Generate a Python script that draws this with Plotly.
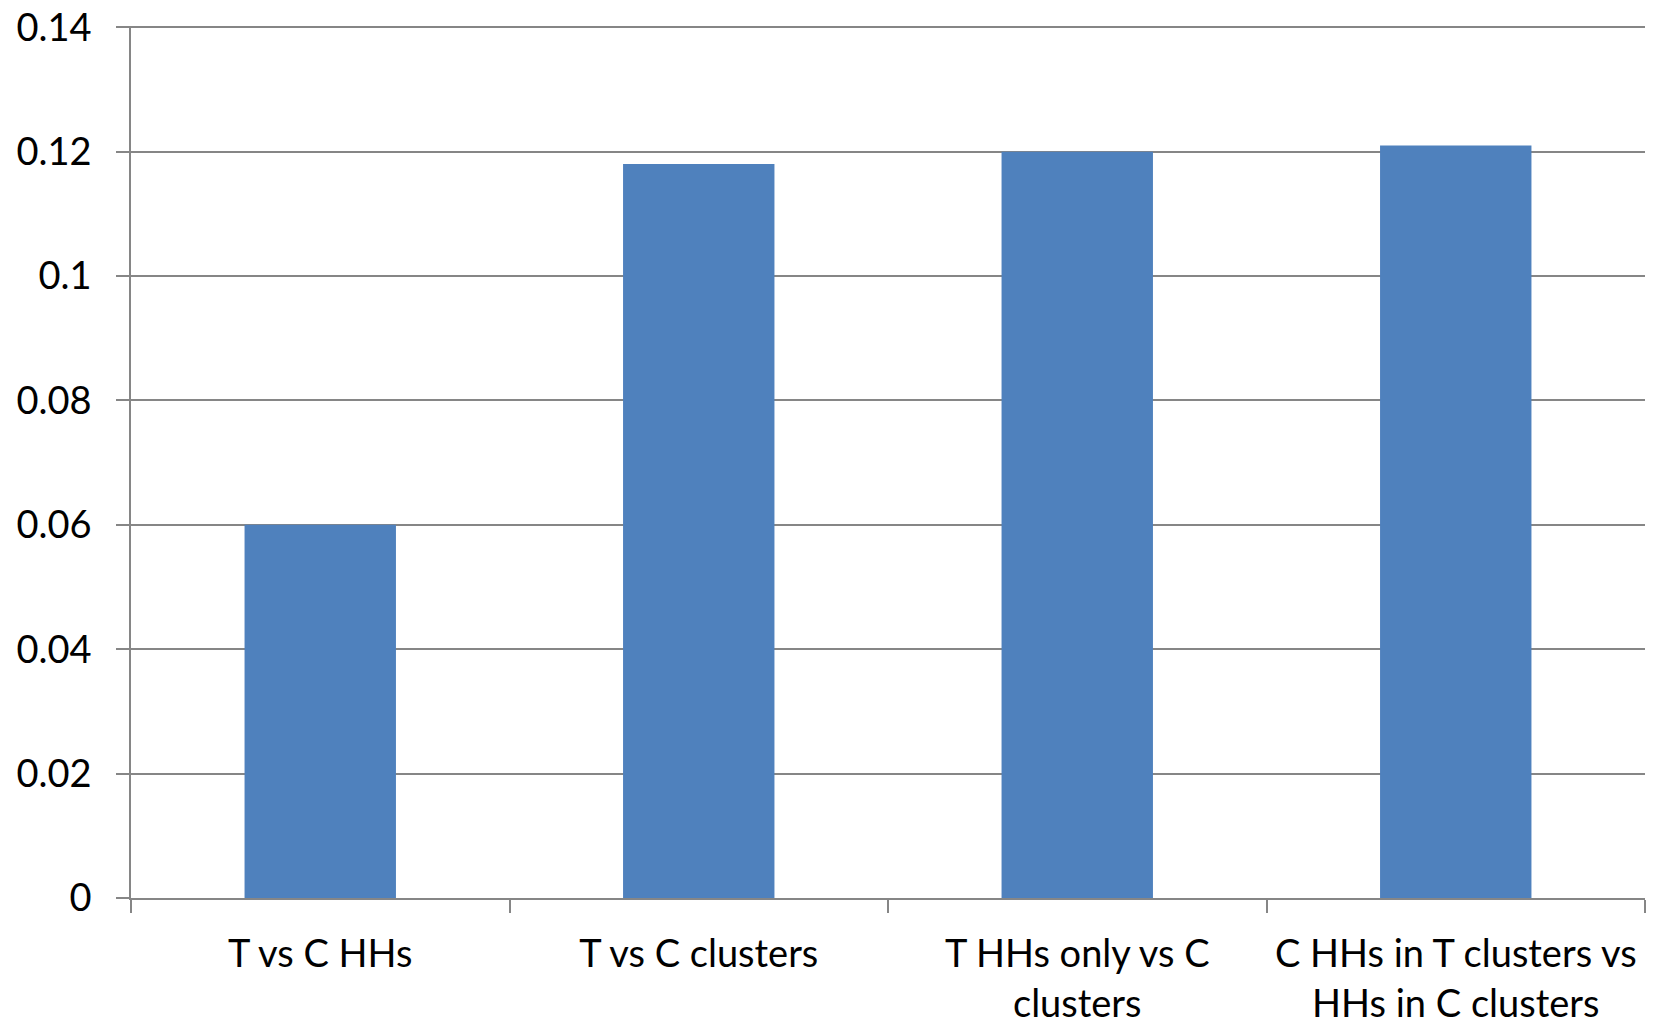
import plotly.graph_objects as go

categories = ["T vs C HHs", "T vs C clusters", "T HHs only vs C<br>clusters", "C HHs in T clusters vs<br>HHs in C clusters"]
values = [0.06, 0.118, 0.12, 0.121]
y_ticks = [0, 0.02, 0.04, 0.06, 0.08, 0.1, 0.12, 0.14]
y_labels = ["0", "0.02", "0.04", "0.06", "0.08", "0.1", "0.12", "0.14"]

FONT = "Lato, 'Open Sans', sans-serif"
GRID = "#868686"
FS = 38

fig = go.Figure(go.Bar(x=categories, y=values, marker=dict(color="#4F81BD", line=dict(width=0))))

fig.update_layout(
    width=1657, height=1024,
    margin=dict(l=131, r=12, t=26, b=126),
    paper_bgcolor="white", plot_bgcolor="white",
    bargap=0.6,
    showlegend=False,
    font=dict(family=FONT, size=FS, color="black"),
)
fig.update_yaxes(
    range=[0, 0.1402], tickvals=y_ticks, ticktext=y_labels,
    showgrid=True, gridcolor=GRID, gridwidth=1.5,
    showline=True, linecolor=GRID, linewidth=1.5,
    ticks="outside", ticklen=13, tickcolor=GRID, tickwidth=1.5,
    ticklabelstandoff=17, zeroline=False, automargin=False,
    ticklabeloverflow="allow",
    tickfont=dict(family=FONT, size=FS, color="black"),
)
fig.update_xaxes(
    showline=True, linecolor=GRID, linewidth=1.5,
    ticks="outside", ticklen=13, tickcolor=GRID, tickwidth=1.5,
    tickson="boundaries", showgrid=False, automargin=False,
    ticklabelstandoff=22, ticklabeloverflow="allow",
    tickfont=dict(family=FONT, size=FS, color="black"),
)

fig.write_html("out.html", config={"displayModeBar": False},
               post_script="document.body.style.margin='0';")
